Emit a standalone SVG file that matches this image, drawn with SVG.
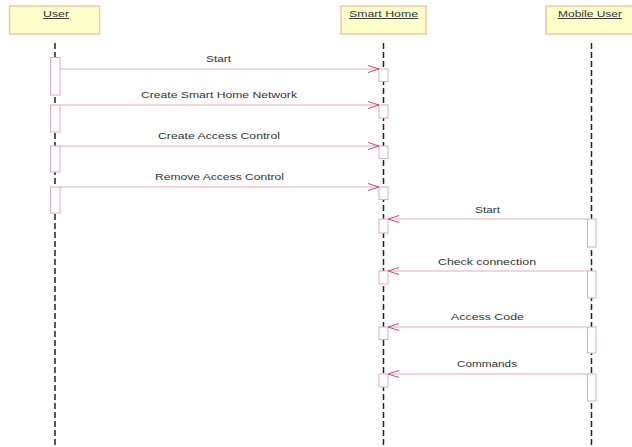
<svg xmlns="http://www.w3.org/2000/svg" width="632" height="447" viewBox="0 0 632 447">
  <style>
    .obj { fill: #FFFFCC; stroke: #F2C6A2; stroke-width: 1.5; }
    .objt { font-family: "Liberation Sans", Arial, sans-serif; font-size: 9.5px; fill: #333333; text-anchor: middle; text-decoration: underline; }
    .life { stroke: #222222; stroke-width: 1.5; stroke-dasharray: 6 3; fill: none; }
    .act { fill: #FFFFFF; stroke: #E8A8BE; stroke-width: 1; }
    .msg { stroke: #E8A8BE; stroke-width: 1; fill: none; }
    .head { stroke: #C4507C; stroke-width: 1; fill: none; }
    .lbl { font-family: "Liberation Sans", Arial, sans-serif; font-size: 9.5px; fill: #333333; text-anchor: middle; }
  </style>
  <rect width="632" height="447" fill="#FFFFFF"/>

  <g id="lifelines">
    <line class="life" x1="55" y1="43" x2="55" y2="447"/>
    <line class="life" x1="383.5" y1="43" x2="383.5" y2="447"/>
    <line class="life" x1="591.5" y1="43" x2="591.5" y2="447"/>
  </g>

  <g id="user">
    <rect class="obj" x="9.5" y="6" width="90" height="28"/>
    <text class="objt" x="56" y="17" textLength="26" lengthAdjust="spacingAndGlyphs">User</text>
    <rect class="act" x="50.5" y="57.5" width="9.5" height="37.5"/>
    <rect class="act" x="50.5" y="105" width="9.5" height="27"/>
    <rect class="act" x="50.5" y="146" width="9.5" height="26"/>
    <rect class="act" x="50.5" y="187" width="9.5" height="26"/>
  </g>

  <g id="smart-home">
    <rect class="obj" x="341" y="6" width="85" height="28"/>
    <text class="objt" x="383.5" y="17" textLength="69" lengthAdjust="spacingAndGlyphs">Smart Home</text>
    <rect class="act" x="379" y="69" width="9" height="12.5"/>
    <rect class="act" x="379" y="105" width="9" height="13"/>
    <rect class="act" x="379" y="146" width="9" height="12.5"/>
    <rect class="act" x="379" y="187" width="9" height="12.5"/>
    <rect class="act" x="379" y="219" width="9" height="14"/>
    <rect class="act" x="379" y="271" width="9" height="13"/>
    <rect class="act" x="379" y="327" width="9" height="12.5"/>
    <rect class="act" x="379" y="374" width="9" height="13"/>
  </g>

  <g id="mobile-user">
    <rect class="obj" x="546" y="6" width="90" height="28"/>
    <text class="objt" x="590" y="17" textLength="64" lengthAdjust="spacingAndGlyphs">Mobile User</text>
    <rect class="act" x="587.5" y="219" width="8.5" height="28"/>
    <rect class="act" x="587.5" y="271" width="8.5" height="27"/>
    <rect class="act" x="587.5" y="327" width="8.5" height="26"/>
    <rect class="act" x="587.5" y="374" width="8.5" height="27"/>
  </g>

  <g id="connectors">
    <line class="msg" x1="60" y1="69" x2="379" y2="69"/>
    <path class="head" d="M368,65.5 L379,69 L368,72.5"/>
    <text class="lbl" x="218.5" y="62" textLength="25" lengthAdjust="spacingAndGlyphs">Start</text>

    <line class="msg" x1="60" y1="105" x2="379" y2="105"/>
    <path class="head" d="M368,101.5 L379,105 L368,108.5"/>
    <text class="lbl" x="219" y="98" textLength="156" lengthAdjust="spacingAndGlyphs">Create Smart Home Network</text>

    <line class="msg" x1="60" y1="146" x2="379" y2="146"/>
    <path class="head" d="M368,142.5 L379,146 L368,149.5"/>
    <text class="lbl" x="219" y="138.5" textLength="122" lengthAdjust="spacingAndGlyphs">Create Access Control</text>

    <line class="msg" x1="60" y1="187" x2="379" y2="187"/>
    <path class="head" d="M368,183.5 L379,187 L368,190.5"/>
    <text class="lbl" x="219.5" y="179.5" textLength="129" lengthAdjust="spacingAndGlyphs">Remove Access Control</text>

    <line class="msg" x1="587.5" y1="219" x2="388" y2="219"/>
    <path class="head" d="M399,215.5 L388,219 L399,222.5"/>
    <text class="lbl" x="487.5" y="212.5" textLength="25" lengthAdjust="spacingAndGlyphs">Start</text>

    <line class="msg" x1="587.5" y1="271" x2="388" y2="271"/>
    <path class="head" d="M399,267.5 L388,271 L399,274.5"/>
    <text class="lbl" x="487" y="264.5" textLength="98" lengthAdjust="spacingAndGlyphs">Check connection</text>

    <line class="msg" x1="587.5" y1="327" x2="388" y2="327"/>
    <path class="head" d="M399,323.5 L388,327 L399,330.5"/>
    <text class="lbl" x="487.5" y="319.5" textLength="73" lengthAdjust="spacingAndGlyphs">Access Code</text>

    <line class="msg" x1="587.5" y1="374" x2="388" y2="374"/>
    <path class="head" d="M399,370.5 L388,374 L399,377.5"/>
    <text class="lbl" x="487" y="366.5" textLength="60" lengthAdjust="spacingAndGlyphs">Commands</text>
  </g>
</svg>
